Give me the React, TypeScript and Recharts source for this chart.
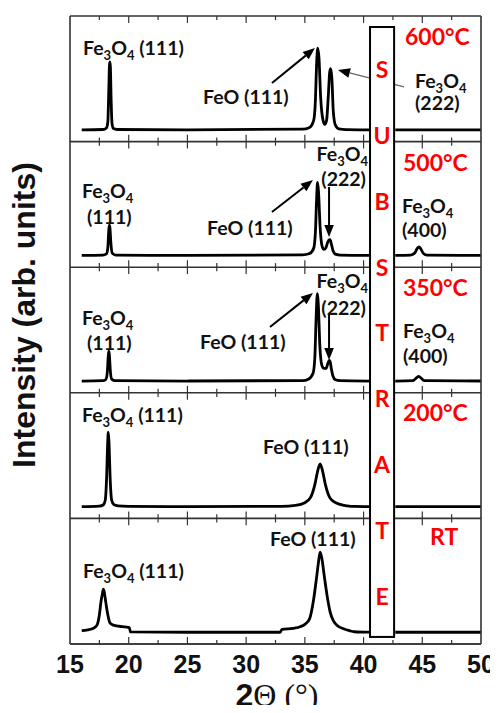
import React from 'react';
import {
    LineChart,
    Line,
    XAxis,
    YAxis,
    ReferenceLine,
    ReferenceArea,
    ReferenceDot,
} from 'recharts';

// 2-theta (deg) and intensity (arb., tick units) for each anneal temperature
const twoTheta600 = [16.0, 17.8, 18.1, 18.22, 18.3, 18.36, 18.4, 18.44, 18.5, 18.58, 18.7, 19.0, 25.0, 34.8, 35.4, 35.75, 35.9, 36.0, 36.1, 36.2, 36.35, 36.55, 36.7, 36.85, 37.0, 37.12, 37.2, 37.3, 37.42, 37.6, 37.9, 38.5, 40.5, 41.5, 42.7, 50.0];
const counts600 = [0, 0.02, 0.12, 0.5, 2.4, 4.1, 4.33, 4.0, 2.0, 0.4, 0.08, 0.02, 0, 0.04, 0.15, 0.6, 1.9, 4.2, 5.2, 4.6, 2.0, 0.6, 0.35, 0.6, 2.2, 3.7, 3.9, 3.3, 1.2, 0.3, 0.06, 0.01, 0, null, 0, 0];

const twoTheta500 = [16.0, 17.8, 18.1, 18.22, 18.3, 18.35, 18.4, 18.48, 18.6, 18.9, 25.0, 34.8, 35.4, 35.75, 35.9, 36.0, 36.08, 36.16, 36.3, 36.45, 36.62, 36.8, 36.95, 37.08, 37.15, 37.25, 37.4, 37.6, 38.0, 40.5, 41.5, 42.7, 44.0, 44.35, 44.55, 44.72, 44.9, 45.1, 45.4, 50.0];
const counts500 = [0, 0.02, 0.1, 0.5, 1.55, 1.93, 1.75, 0.8, 0.15, 0.02, 0, 0.03, 0.12, 0.45, 1.5, 3.6, 4.65, 4.1, 1.8, 0.65, 0.38, 0.5, 0.85, 1.0, 1.0, 0.75, 0.3, 0.08, 0.02, 0, null, 0, 0.02, 0.15, 0.42, 0.55, 0.38, 0.12, 0.02, 0];

const twoTheta350 = [16.0, 17.8, 18.05, 18.17, 18.25, 18.3, 18.35, 18.43, 18.55, 18.85, 25.0, 34.8, 35.3, 35.7, 35.85, 35.95, 36.03, 36.08, 36.15, 36.28, 36.45, 36.62, 36.8, 36.95, 37.08, 37.15, 37.25, 37.4, 37.6, 38.0, 40.5, 41.5, 42.7, 44.2, 44.5, 44.7, 44.9, 45.2, 50.0];
const counts350 = [0, 0.02, 0.1, 0.5, 1.5, 1.9, 1.7, 0.7, 0.12, 0.02, 0, 0.03, 0.12, 0.5, 1.5, 3.8, 5.3, 5.56, 4.8, 2.2, 1.0, 0.8, 0.8, 1.1, 1.32, 1.25, 0.8, 0.3, 0.08, 0.02, 0, null, 0, 0.02, 0.2, 0.3, 0.18, 0.02, 0];

const twoTheta200 = [16.0, 17.5, 17.85, 18.0, 18.12, 18.2, 18.26, 18.32, 18.42, 18.55, 18.75, 19.1, 20.0, 25.0, 33.0, 34.2, 35.0, 35.5, 35.85, 36.1, 36.3, 36.5, 36.75, 37.1, 37.5, 38.0, 38.6, 39.2, 40.5, 41.5, 42.7, 50.0];
const counts200 = [0, 0.03, 0.12, 0.4, 1.9, 3.9, 4.74, 4.1, 1.8, 0.4, 0.12, 0.05, 0.02, 0, 0.02, 0.08, 0.25, 0.6, 1.4, 2.3, 2.72, 2.3, 1.4, 0.6, 0.3, 0.14, 0.05, 0.01, 0, null, 0, 0];

const twoThetaRT = [16.0, 16.5, 17.0, 17.3, 17.5, 17.65, 17.77, 17.84, 17.92, 18.05, 18.2, 18.4, 18.7, 19.2, 19.7, 20.05, 20.15, 25.0, 32.9, 33.05, 34.0, 34.6, 35.0, 35.4, 35.75, 36.0, 36.15, 36.3, 36.45, 36.65, 36.9, 37.15, 37.45, 37.8, 38.3, 38.8, 39.2, 40.5, 41.5, 42.7, 50.0];
const countsRT = [0.1, 0.15, 0.25, 0.45, 1.1, 2.0, 2.5, 2.74, 2.55, 1.9, 1.2, 0.6, 0.45, 0.38, 0.34, 0.3, 0.02, 0, 0, 0.18, 0.25, 0.35, 0.5, 0.85, 2.1, 3.5, 4.4, 5.1, 4.7, 3.6, 2.3, 1.3, 0.7, 0.4, 0.22, 0.1, 0.03, 0, null, 0, 0];

const majorTicks = [15, 20, 25, 30, 35, 40, 45, 50];
const minorTicks = [17.5, 22.5, 27.5, 32.5, 37.5, 42.5, 47.5];
const yTicks = Array.from({length: 40}, (_, i) => i);
const yMin = -0.75;
const yMax = 39.25;
const panelEdges = [yMax, 31.25, 23.25, 15.25, 7.25, yMin];

const panels = [
    {key: 'p600', theta: twoTheta600, counts: counts600, offset: 32},
    {key: 'p500', theta: twoTheta500, counts: counts500, offset: 24},
    {key: 'p350', theta: twoTheta350, counts: counts350, offset: 16},
    {key: 'p200', theta: twoTheta200, counts: counts200, offset: 8},
    {key: 'pRT', theta: twoThetaRT, counts: countsRT, offset: 0},
];

const peakLabels = [
    {x: 16.11, y: 37.21, text: 'Fe3O4 (111)'},
    {x: 26.33, y: 34.09, text: 'FeO (111)'},
    {x: 44.38, y: 35.11, text: 'Fe3O4'},
    {x: 44.38, y: 33.71, text: '(222)'},
    {x: 36.0, y: 30.46, text: 'Fe3O4'},
    {x: 36.4, y: 28.87, text: '(222)'},
    {x: 26.67, y: 25.75, text: 'FeO (111)'},
    {x: 16.02, y: 28.1, text: 'Fe3O4'},
    {x: 16.45, y: 26.45, text: '(111)'},
    {x: 43.27, y: 27.15, text: 'Fe3O4'},
    {x: 43.27, y: 25.62, text: '(400)'},
    {x: 36.0, y: 22.37, text: 'Fe3O4'},
    {x: 36.4, y: 20.65, text: '(222)'},
    {x: 26.07, y: 18.49, text: 'FeO (111)'},
    {x: 16.02, y: 20.01, text: 'Fe3O4'},
    {x: 16.45, y: 18.42, text: '(111)'},
    {x: 43.36, y: 19.19, text: 'Fe3O4'},
    {x: 43.36, y: 17.59, text: '(400)'},
    {x: 16.02, y: 13.84, text: 'Fe3O4 (111)'},
    {x: 31.44, y: 11.8, text: 'FeO (111)'},
    {x: 32.03, y: 5.94, text: 'FeO (111)'},
    {x: 16.11, y: 3.9, text: 'Fe3O4 (111)'},
];

const tempLabels = [
    {x: 43.53, y: 37.91, text: '600°C'},
    {x: 43.36, y: 29.89, text: '500°C'},
    {x: 43.36, y: 21.93, text: '350°C'},
    {x: 43.36, y: 13.96, text: '200°C'},
    {x: 45.66, y: 6.07, text: 'RT'},
];

const arrows = [
    {x1: 32.2, y1: 34.98, x2: 35.86, y2: 37.21, color: '#000', w: 2},
    {x1: 43.44, y1: 34.73, x2: 37.82, y2: 35.81, color: '#666', w: 1.3},
    {x1: 32.2, y1: 26.77, x2: 35.69, y2: 28.8, color: '#000', w: 2},
    {x1: 37.06, y1: 28.36, x2: 37.06, y2: 25.17, color: '#000', w: 2},
    {x1: 32.03, y1: 19.44, x2: 35.69, y2: 21.61, color: '#000', w: 2},
    {x1: 37.06, y1: 20.21, x2: 37.06, y2: 17.34, color: '#000', w: 2},
];

const substrateLetters = 'SUBSTRATE'.split('');

const frame = '#333';
const labelFont = 'Lato, "Open Sans", sans-serif';
const arialFont = '"Liberation Sans", Arial, sans-serif';

function chemParts(s: string) {
    const out: {t: string; sub: boolean}[] = [];
    for (let i = 0; i < s.length; i++) {
        const c = s[i];
        const sub = /\d/.test(c) && i > 0 && /[A-Za-z]/.test(s[i - 1]);
        const last = out[out.length - 1];
        if (last && last.sub === sub) last.t += c;
        else out.push({t: c, sub});
    }
    return out;
}

const ChemText = ({cx, cy, text}: any) => {
    const parts = chemParts(text);
    let prevSub = false;
    return (
        <text x={cx} y={cy + 7} fontFamily={labelFont} fontWeight={700} fontSize={19.5} fill='#111'>
            {parts.map((p, i) => {
                const dy = p.sub ? 5 : prevSub ? -5 : 0;
                prevSub = p.sub;
                return (
                    <tspan key={i} dy={dy} fontSize={p.sub ? 13 : 19.5}>
                        {p.t}
                    </tspan>
                );
            })}
        </text>
    );
};

const Arrow = ({x1, y1, x2, y2, color, w}: any) => {
    const ang = Math.atan2(y2 - y1, x2 - x1);
    const L = 12;
    const H = 4.8;
    const bx = x2 - L * Math.cos(ang);
    const by = y2 - L * Math.sin(ang);
    const px = -Math.sin(ang) * H;
    const py = Math.cos(ang) * H;
    return (
        <g>
            <line x1={x1} y1={y1} x2={bx} y2={by} stroke={color} strokeWidth={w} />
            <polygon points={`${x2},${y2} ${bx + px},${by + py} ${bx - px},${by - py}`} fill='#000' />
        </g>
    );
};

const Substrate = ({x, y, width, height}: any) => (
    <g>
        <rect x={x} y={y} width={width} height={height} fill='#fff' stroke='#000' strokeWidth={2} />
        {substrateLetters.map((l, i) => (
            <text
                key={i}
                x={x + width / 2}
                y={y + 43 + i * 65.8 + 8.3}
                textAnchor='middle'
                fontFamily={labelFont}
                fontWeight={700}
                fontSize={23}
                fill='#ff0000'
            >
                {l}
            </text>
        ))}
    </g>
);

// inward tick marks on every panel edge, clipped to the plot
function edgeTicks(values: number[], len: number, tag: string) {
    return panelEdges.flatMap((b) =>
        values.map((t) => (
            <ReferenceLine
                key={`${tag}-${b}-${t}`}
                xAxisId='xb'
                yAxisId='yl'
                ifOverflow='visible'
                segment={[{x: t, y: Math.max(b - len, yMin)}, {x: t, y: Math.min(b + len, yMax)}]}
                stroke={frame}
                strokeWidth={1.2}
            />
        )),
    );
}

const App: React.FC = () => {
    const series = panels.map((p) => ({
        key: p.key,
        data: p.theta.map((x, i) => ({x, y: p.counts[i] == null ? null : (p.counts[i] as number) + p.offset})),
    }));
    const axisLine = {stroke: frame, strokeWidth: 1.6};
    const tickLine = {stroke: frame, strokeWidth: 1.2};
    return (
        <div style={{position: 'relative', margin: -8, width: 498, height: 713, overflow: 'hidden', background: '#fff'}}>
            <LineChart width={498} height={713} margin={{top: 16, right: 17, bottom: 29, left: 70}} style={{position: 'absolute', left: 0, top: 0}}>
                <XAxis
                    xAxisId='xb'
                    type='number'
                    dataKey='x'
                    domain={[15, 50]}
                    allowDataOverflow
                    ticks={majorTicks}
                    interval={0}
                    orientation='bottom'
                    height={40}
                    tickLine={false}
                    tickSize={0}
                    tickMargin={11}
                    axisLine={axisLine}
                    tick={{fontFamily: arialFont, fontWeight: 700, fontSize: 25, fill: '#111'}}
                />
                <YAxis yAxisId='yl' type='number' domain={[yMin, yMax]} allowDataOverflow ticks={yTicks} interval={0} orientation='left' mirror tick={false} tickSize={6} axisLine={axisLine} tickLine={tickLine} />
                <YAxis yAxisId='yr' type='number' domain={[yMin, yMax]} allowDataOverflow ticks={yTicks} interval={0} orientation='right' mirror tick={false} tickSize={6} axisLine={axisLine} tickLine={tickLine} />

                {panelEdges.map((b) => (
                    <ReferenceLine key={`edge-${b}`} xAxisId='xb' yAxisId='yl' ifOverflow='visible' y={b} stroke={frame} strokeWidth={1.6} />
                ))}
                {edgeTicks(majorTicks.slice(1, -1), 0.44, 'mj')}
                {edgeTicks(minorTicks, 0.26, 'mn')}

                {series.map((s) => (
                    <Line
                        key={s.key}
                        xAxisId='xb'
                        yAxisId='yl'
                        data={s.data}
                        dataKey='y'
                        type='monotone'
                        stroke='#000'
                        strokeWidth={2.8}
                        strokeLinejoin='round'
                        dot={false}
                        activeDot={false}
                        connectNulls={false}
                        isAnimationActive={false}
                    />
                ))}

                {arrows.map((a, i) => (
                    <ReferenceLine
                        key={`arrow-${i}`}
                        xAxisId='xb'
                        yAxisId='yl'
                        segment={[{x: a.x1, y: a.y1}, {x: a.x2, y: a.y2}]}
                        shape={(p: any) => <Arrow x1={p.x1} y1={p.y1} x2={p.x2} y2={p.y2} color={a.color} w={a.w} />}
                    />
                ))}

                {peakLabels.map((l, i) => (
                    <ReferenceDot key={`pl-${i}`} xAxisId='xb' yAxisId='yl' x={l.x} y={l.y} r={0} shape={(p: any) => <ChemText cx={p.cx} cy={p.cy} text={l.text} />} />
                ))}
                {tempLabels.map((l, i) => (
                    <ReferenceDot
                        key={`tl-${i}`}
                        xAxisId='xb'
                        yAxisId='yl'
                        x={l.x}
                        y={l.y}
                        r={0}
                        shape={(p: any) => (
                            <text x={p.cx} y={p.cy + 8.3} fontFamily={labelFont} fontWeight={700} fontSize={23} fill='#ff0000'>
                                {l.text}
                            </text>
                        )}
                    />
                ))}

                <ReferenceArea xAxisId='xb' yAxisId='yl' x1={40.55} x2={42.6} y1={-0.3} y2={38.55} zIndex={1500} shape={(p: any) => <Substrate {...p} />} />
            </LineChart>
            <svg width={498} height={713} style={{position: 'absolute', left: 0, top: 0, pointerEvents: 'none'}}>
                <text transform='translate(35,315) rotate(-90)' textAnchor='middle' fontFamily={arialFont} fontWeight={700} fontSize={32} fill='#111'>
                    Intensity (arb. units)
                </text>
                <text x={277} y={706} textAnchor='middle' fontSize={32} fill='#111'>
                    <tspan fontFamily={arialFont} fontWeight={700}>2</tspan>
                    <tspan fontFamily='"Liberation Serif", serif'>Θ (°)</tspan>
                </text>
            </svg>
        </div>
    );
};

export default App;
